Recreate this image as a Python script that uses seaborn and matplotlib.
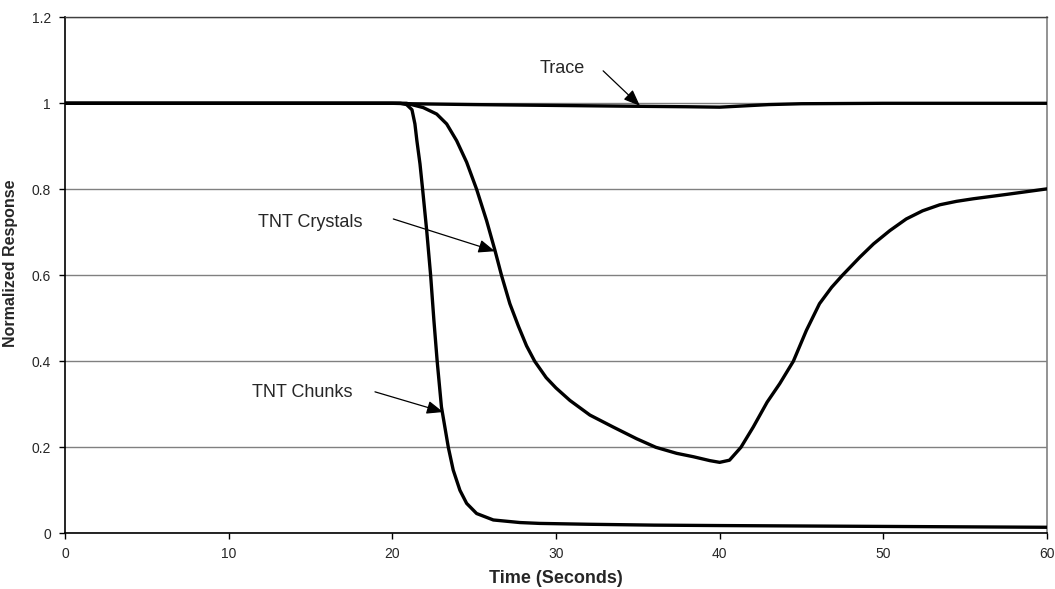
import numpy as np
import pandas as pd
import matplotlib
matplotlib.use("Agg")
import matplotlib.pyplot as plt
from matplotlib.ticker import FuncFormatter, MultipleLocator
import seaborn as sns

# ---- data ----
trace_t = [0, 10, 20, 21, 25, 30, 35, 38, 40, 41, 43, 45, 50, 60]
trace_v = [1.0, 1.0, 1.0, 0.999, 0.997, 0.995, 0.993, 0.992, 0.991, 0.993, 0.997, 0.999, 1.0, 1.0]

chunks_t = [0, 10, 20, 20.5, 20.87, 21.2, 21.38, 21.5, 21.69, 21.85, 22.1, 22.34, 22.54, 22.74,
            23.0, 23.42, 23.72, 24.13, 24.54, 25.15, 26.17, 27.8, 29, 32, 36, 40, 45, 50, 55, 60]
chunks_v = [1.0, 1.0, 1.0, 1.0, 0.997, 0.985, 0.952, 0.913, 0.859, 0.8, 0.704, 0.6, 0.495, 0.4,
            0.294, 0.2, 0.147, 0.10, 0.0696, 0.046, 0.031, 0.025, 0.023, 0.021, 0.019,
            0.018, 0.017, 0.016, 0.015, 0.014]

crystals_t = [0, 10, 20, 20.87, 21.89, 22.71, 23.32, 23.93, 24.54, 25.15, 25.76, 26.27, 26.67,
              27.18, 27.7, 28.2, 28.7, 29.4, 30.0, 30.85, 32.07, 33.5, 34.92, 36.1, 37.37, 38.4,
              39.4, 40.0, 40.6, 41.3, 42.05, 42.9, 43.67, 44.5, 45.3, 46.1, 46.84, 47.5, 48.56,
              49.4, 50.4, 51.4, 52.4, 53.45, 54.47, 55.5, 57.5, 60]
crystals_v = [1.0, 1.0, 1.0, 1.0, 0.990, 0.975, 0.952, 0.913, 0.863, 0.8, 0.727, 0.658, 0.6,
              0.534, 0.482, 0.436, 0.4, 0.362, 0.338, 0.309, 0.275, 0.247, 0.22, 0.2, 0.186,
              0.178, 0.169, 0.165, 0.170, 0.2, 0.247, 0.305, 0.348, 0.4, 0.472, 0.534, 0.572,
              0.6, 0.642, 0.673, 0.704, 0.731, 0.750, 0.764, 0.772, 0.778, 0.788, 0.801]

series_names = ["Trace", "TNT Crystals", "TNT Chunks"]
x_ticks = [0, 10, 20, 30, 40, 50, 60]

frames = []
for name, t, v in [("Trace", trace_t, trace_v),
                   ("TNT Crystals", crystals_t, crystals_v),
                   ("TNT Chunks", chunks_t, chunks_v)]:
    frames.append(pd.DataFrame({"Time": t, "Response": v, "Series": name}))
df = pd.concat(frames, ignore_index=True)

sns.set_style("white")
plt.rcParams["font.family"] = ["Liberation Sans", "DejaVu Sans"]

fig = plt.figure(figsize=(10.55, 5.89), dpi=100)
ax = fig.add_axes([65 / 1055, 1 - 533.3 / 589, (1047 - 65) / 1055, (533.3 - 17.3) / 589])

sns.lineplot(data=df, x="Time", y="Response", units="Series", estimator=None, sort=False,
             color="black", linewidth=2.4, ax=ax, legend=False, zorder=3,
             solid_joinstyle="round", solid_capstyle="round")

ax.set_xlim(0, 60)
ax.set_ylim(0, 1.2)
ax.set_xticks(x_ticks)
ax.yaxis.set_major_locator(MultipleLocator(0.2))
ax.yaxis.set_major_formatter(FuncFormatter(lambda v, p: f"{v:g}"))
ax.yaxis.grid(True, color="#808080", linewidth=1.0, zorder=0)
ax.xaxis.grid(False)
ax.set_axisbelow(True)

for s in ["left", "bottom"]:
    ax.spines[s].set_color("black")
    ax.spines[s].set_linewidth(1.2)
ax.spines["top"].set_color("#404040")
ax.spines["top"].set_linewidth(1.0)
ax.spines["right"].set_color("#808080")
ax.spines["right"].set_linewidth(1.2)

ax.tick_params(axis="both", direction="out", length=4, width=1, color="black",
               labelsize=10, pad=6, left=True, bottom=True)

ax.set_xlabel("Time (Seconds)", fontsize=13, fontweight="bold", labelpad=6)
ax.set_ylabel("Normalized Response", fontsize=11.5, fontweight="bold")
ax.yaxis.set_label_coords(-0.0474, 0.524)

arrowprops = dict(arrowstyle="-|>,head_length=1.0,head_width=0.4", color="black", lw=0.9,
                  shrinkA=0, shrinkB=0)
ax.annotate("", xy=(35.13, 0.994), xytext=(32.88, 1.0755), arrowprops=arrowprops, zorder=4)
ax.annotate("", xy=(26.27, 0.656), xytext=(20.06, 0.731), arrowprops=arrowprops, zorder=4)
ax.annotate("", xy=(23.11, 0.282), xytext=(18.94, 0.329), arrowprops=arrowprops, zorder=4)

ax.text(30.4, 1.08, "Trace", fontsize=13, ha="center", va="center")
ax.text(14.97, 0.722, "TNT Crystals", fontsize=13, ha="center", va="center")
ax.text(14.5, 0.328, "TNT Chunks", fontsize=13, ha="center", va="center")

fig.savefig("out.png", dpi=100, facecolor="white")
